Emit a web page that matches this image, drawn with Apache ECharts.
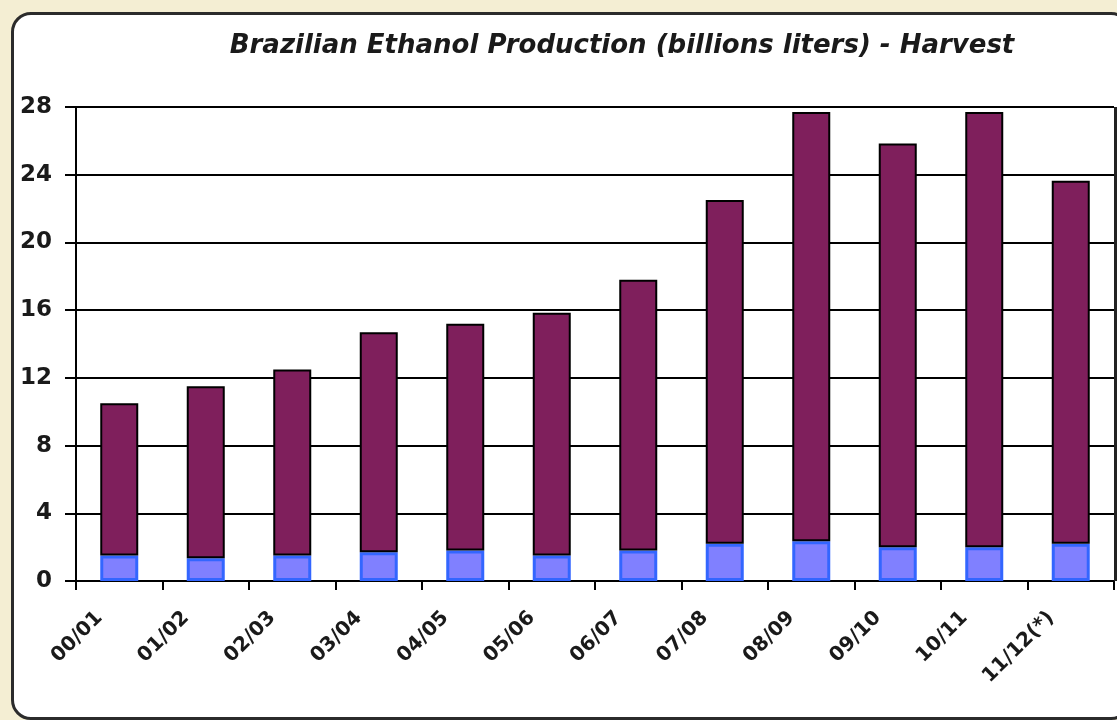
<!DOCTYPE html>
<html>
<head>
<meta charset="utf-8">
<script src="https://cdn.jsdelivr.net/npm/echarts@6/dist/echarts.min.js"></script>
<style>
  html, body { margin: 0; padding: 0; width: 1117px; height: 720px; overflow: hidden; background: #f4eed3; }
  #panel { position: absolute; left: 11px; top: 12px; width: 1120px; height: 708px; background: #ffffff;
           border: 3px solid #2b2b2b; border-radius: 20px; box-sizing: border-box; }
  #chart { position: absolute; left: 0; top: 0; width: 1117px; height: 720px; }
</style>
</head>
<body>
<div id="panel"></div>
<div id="chart"></div>
<script>
const categories = ['00/01', '01/02', '02/03', '03/04', '04/05', '05/06', '06/07', '07/08', '08/09', '09/10', '10/11', '11/12(*)'];
// lower (blue) segment, billions liters
const blueValues = [1.5, 1.35, 1.5, 1.7, 1.8, 1.5, 1.8, 2.2, 2.35, 2.0, 2.0, 2.2];
// upper (purple) segment, billions liters
const purpleValues = [9.0, 10.15, 11.0, 13.0, 13.4, 14.35, 16.0, 20.3, 25.35, 23.85, 25.7, 21.45];
const yTicks = { min: 0, max: 28, interval: 4 };

const FONT = 'DejaVu Sans, Verdana, sans-serif';
const chart = echarts.init(document.getElementById('chart'), null, { renderer: 'canvas' });
chart.setOption({
  animation: false,
  backgroundColor: 'transparent',
  title: {
    text: 'Brazilian Ethanol Production (billions liters) - Harvest',
    left: 617, top: 28, textAlign: 'center',
    textStyle: { fontFamily: FONT, fontSize: 26, fontWeight: 'bold', fontStyle: 'italic', color: '#1a1a1a' }
  },
  grid: { left: 76, right: 3, top: 107, bottom: 139, containLabel: false },
  xAxis: {
    type: 'category', data: categories,
    axisLine: { lineStyle: { color: '#000', width: 2 } },
    axisTick: { show: true, length: 9, lineStyle: { color: '#000', width: 2 } },
    axisLabel: { rotate: 45, margin: 14, padding: [0, 28, 0, 0], fontFamily: FONT, fontSize: 20, fontWeight: 'bold', color: '#1a1a1a' }
  },
  yAxis: {
    type: 'value', min: yTicks.min, max: yTicks.max, interval: yTicks.interval,
    axisLine: { show: true, lineStyle: { color: '#000', width: 2 } },
    axisTick: { show: true, length: 11, lineStyle: { color: '#000', width: 2 } },
    splitLine: { show: true, lineStyle: { color: '#000', width: 2 } },
    axisLabel: { margin: 24, padding: [0, 0, 6, 0], fontFamily: FONT, fontSize: 23, fontWeight: 'bold', color: '#1a1a1a' }
  },
  series: [
    {
      type: 'bar', stack: 'total', data: blueValues, barWidth: 38,
      itemStyle: { color: '#8080ff', borderColor: '#3366ff', borderWidth: 3 }
    },
    {
      type: 'bar', stack: 'total', data: purpleValues, barWidth: 38,
      itemStyle: { color: '#7f1f5c', borderColor: '#000', borderWidth: 2 }
    },
    {
      // right-hand plot border
      type: 'line', data: [], markLine: { silent: true, symbol: 'none', label: { show: false },
        lineStyle: { color: '#222', width: 3, type: 'solid' },
        data: [[{ x: 1115, y: 107 }, { x: 1115, y: 581 }]] }
    }
  ]
});
</script>
</body>
</html>
